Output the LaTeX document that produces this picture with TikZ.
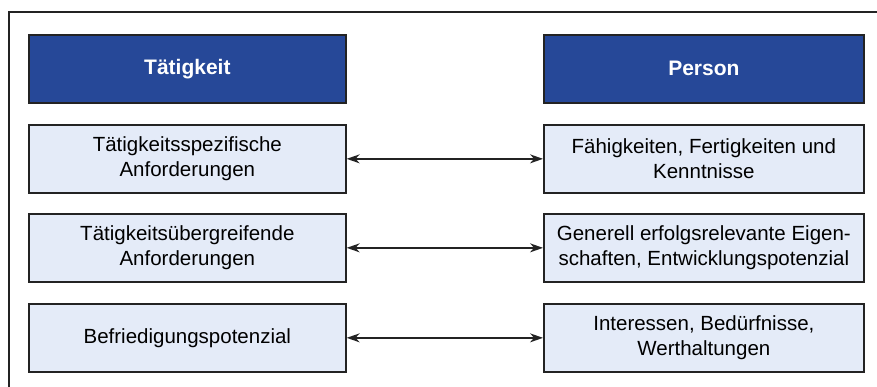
\documentclass[tikz,border=0pt]{standalone}
\usepackage{fontspec}
\setmainfont{Liberation Sans}
\usetikzlibrary{arrows.meta}
\definecolor{headblue}{RGB}{38,72,152}
\definecolor{cellfill}{RGB}{228,235,248}
\definecolor{inkline}{RGB}{35,35,35}
\tikzset{
  x=1pt, y=1pt,
  cell/.style={draw=inkline, line width=1.7pt, fill=cellfill, minimum width=317pt,
    minimum height=68pt, align=center, font=\fontsize{20.5}{25}\selectfont, text=black, anchor=north west},
  rcell/.style={cell, minimum width=320pt},
  headcell/.style={cell, fill=headblue, text=white, font=\fontsize{21}{25}\selectfont\bfseries},
  rheadcell/.style={headcell, minimum width=320pt},
  link/.style={draw=inkline, line width=1.6pt, {Stealth[length=13pt,width=9pt]}-{Stealth[length=13pt,width=9pt]}}
}
\begin{document}
\begin{tikzpicture}
\useasboundingbox (0,0) rectangle (877,-387);
% outer frame (open at right and bottom)
\draw[inkline, line width=2pt] (9,-387) -- (9,-12) -- (877,-12);

% left column
\node[headcell] (th) at (28,-34) {Tätigkeit};
\node[cell] (t1) at (28,-124) {Tätigkeitsspezifische\\Anforderungen};
\node[cell] (t2) at (28,-213) {Tätigkeitsübergreifende\\Anforderungen};
\node[cell] (t3) at (28,-303) {Befriedigungspotenzial};

% right column
\node[rheadcell] (ph) at (543,-34) {Person};
\node[rcell] (p1) at (543,-124) {Fähigkeiten, Fertigkeiten und\\Kenntnisse};
\node[rcell] (p2) at (543,-213) {Generell erfolgsrelevante Eigen-\\schaften, Entwicklungspotenzial};
\node[rcell] (p3) at (543,-303) {Interessen, Bedürfnisse,\\Werthaltungen};

% correspondences
\draw[link] (t1.east) -- (p1.west);
\draw[link] (t2.east) -- (p2.west);
\draw[link] (t3.east) -- (p3.west);
\end{tikzpicture}
\end{document}
